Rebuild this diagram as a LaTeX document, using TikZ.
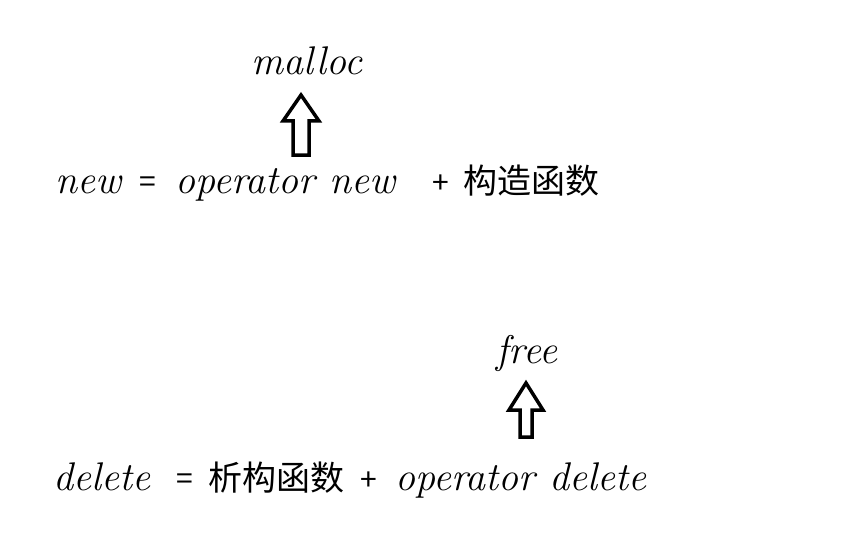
\documentclass[tikz,border=0pt]{standalone}
\usepackage{fontspec}
\newfontfamily\cjk{Noto Sans CJK SC}
\tikzset{
	hand/.style={inner sep=0pt, anchor=base west, font=\fontsize{40}{48}\selectfont\itshape},
	sym/.style={inner sep=0pt, anchor=base west, font=\fontsize{30}{36}\selectfont\cjk},
	han/.style={inner sep=0pt, anchor=base west, font=\fontsize{34}{40}\selectfont\cjk},
	fatarrow/.style={line width=3.5pt, draw=black, fill=white}
}
\begin{document}
\begin{tikzpicture}[x=1pt, y=-1pt]
		\useasboundingbox[fill=white] (0,0) rectangle (859,559);
		% new = operator new + ctor
		\node[hand] (new) at (55,193){new};
		\node[sym] (eqa) at (139,192){=};
		\node[hand] (opnew) at (175,193){operator new};
		\node[sym] (plusa) at (432,193){+};
		\node[han] (ctor) at (463,193){构造函数};
		\node[hand, anchor=base] (malloc) at (307,75){malloc};
		\coordinate (tipa) at (301,95);
		\draw[fatarrow] (tipa) -- ++(18,26) -- ++(-10,0) -- ++(0,34) -- ++(-16,0) -- ++(0,-34) -- ++(-10,0) -- cycle;
		% delete = dtor + operator delete
		\node[hand] (del) at (53,490){delete};
		\node[sym] (eqb) at (176,489){=};
		\node[han] (dtor) at (208,490){析构函数};
		\node[sym] (plusb) at (360,490){+};
		\node[hand] (opdel) at (395,490){operator delete};
		\node[hand, anchor=base] (free) at (527,363){free};
		\coordinate (tipb) at (526,383);
		\draw[fatarrow] (tipb) -- ++(17,27) -- ++(-11,0) -- ++(0,27) -- ++(-12,0) -- ++(0,-27) -- ++(-11,0) -- cycle;
\end{tikzpicture}
\end{document}
